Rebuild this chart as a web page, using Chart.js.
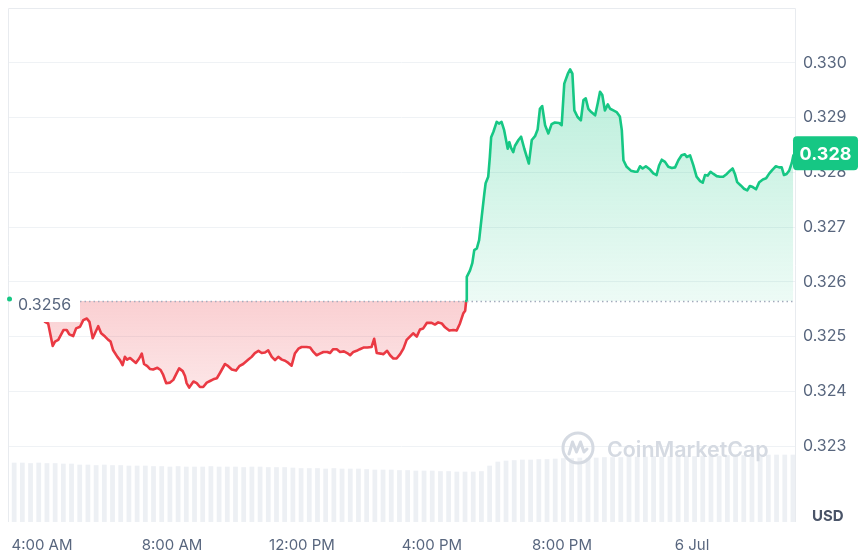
<!DOCTYPE html>
<html><head><meta charset="utf-8">
<script src="https://cdn.jsdelivr.net/npm/chart.js@4.4.1/dist/chart.umd.min.js"></script>
<style>html,body{margin:0;padding:0;background:#fff;}#wrap{width:862px;height:556px;position:relative;}</style>
</head><body><div id="wrap"><canvas id="c" width="862" height="556"></canvas></div>
<script>
// ---- data (hours since 00:00 of the first day) ----
const times = [
4.09,4.19,4.33,4.40,4.50,4.66,4.76,4.84,4.96,5.05,5.17,5.27,5.38,5.46,5.56,5.63,5.73,5.82,5.94,6.04,
6.11,6.19,6.32,6.40,6.48,6.55,6.62,6.71,6.79,6.89,6.99,7.07,7.14,7.24,7.32,7.42,7.55,7.65,7.73,7.82,
7.94,8.04,8.14,8.22,8.33,8.40,8.45,8.53,8.66,8.76,8.86,8.96,9.07,9.17,9.27,9.38,9.48,9.63,9.73,9.84,
9.97,10.07,10.19,10.35,10.45,10.55,10.66,10.76,10.86,10.96,11.07,11.17,11.27,11.38,11.48,11.58,11.68,11.78,11.89,11.99,
12.14,12.25,12.35,12.45,12.55,12.66,12.78,12.86,12.96,13.07,13.17,13.29,13.39,13.48,13.58,13.68,13.78,13.89,14.01,14.14,
14.22,14.30,14.42,14.50,14.62,14.71,14.81,14.91,15.02,15.12,15.22,15.32,15.42,15.53,15.63,15.73,15.84,15.99,16.09,16.19,
16.30,16.40,16.53,16.66,16.76,16.86,16.96,17.02,17.05,17.07,17.17,17.24,17.30,17.38,17.45,17.53,17.61,17.65,17.73,17.78,
17.82,17.89,17.99,18.06,18.14,18.22,18.33,18.38,18.43,18.50,18.55,18.66,18.74,18.84,18.98,19.07,19.17,19.25,19.32,19.39,
19.48,19.58,19.68,19.78,19.91,19.99,20.07,20.18,20.25,20.32,20.38,20.48,20.58,20.66,20.73,20.81,20.90,21.02,21.10,21.17,
21.24,21.32,21.41,21.48,21.58,21.68,21.78,21.84,21.89,21.99,22.12,22.25,22.32,22.40,22.48,22.58,22.71,22.81,22.91,22.99,
23.07,23.17,23.27,23.38,23.48,23.58,23.68,23.78,23.84,23.94,24.04,24.14,24.25,24.33,24.40,24.48,24.57,24.66,24.76,24.86,
24.96,25.07,25.17,25.25,25.32,25.39,25.50,25.60,25.70,25.78,25.87,25.97,26.07,26.18,26.28,26.38,26.48,26.58,26.68,26.76,
26.83,26.91,26.99,27.07,27.12
];
const prices = [
0.32527,0.32524,0.32483,0.32491,0.32494,0.32512,0.32512,0.32504,0.32501,0.32515,0.32518,0.32530,0.32533,0.32527,0.32497,0.32506,0.32519,0.32506,0.32500,0.32494,
0.32491,0.32475,0.32463,0.32457,0.32448,0.32463,0.32458,0.32461,0.32457,0.32452,0.32460,0.32469,0.32450,0.32446,0.32441,0.32440,0.32443,0.32439,0.32430,0.32415,
0.32416,0.32421,0.32433,0.32442,0.32437,0.32428,0.32415,0.32407,0.32418,0.32415,0.32408,0.32408,0.32416,0.32419,0.32422,0.32424,0.32434,0.32450,0.32446,0.32440,
0.32438,0.32446,0.32450,0.32458,0.32463,0.32470,0.32474,0.32470,0.32471,0.32475,0.32463,0.32457,0.32463,0.32458,0.32456,0.32452,0.32447,0.32469,0.32478,0.32481,
0.32481,0.32480,0.32472,0.32466,0.32469,0.32472,0.32472,0.32470,0.32477,0.32477,0.32472,0.32473,0.32470,0.32466,0.32472,0.32474,0.32477,0.32480,0.32480,0.32481,
0.32496,0.32470,0.32469,0.32468,0.32474,0.32466,0.32460,0.32460,0.32468,0.32478,0.32494,0.32500,0.32506,0.32500,0.32513,0.32515,0.32525,0.32525,0.32522,0.32526,
0.32524,0.32517,0.32511,0.32512,0.32511,0.32524,0.32542,0.32547,0.32565,0.32609,0.32621,0.32634,0.32658,0.32661,0.32676,0.32719,0.32761,0.32780,0.32792,0.32828,
0.32864,0.32874,0.32892,0.32889,0.32892,0.32877,0.32843,0.32855,0.32845,0.32837,0.32848,0.32859,0.32865,0.32843,0.32816,0.32859,0.32866,0.32878,0.32916,0.32921,
0.32886,0.32871,0.32888,0.32891,0.32890,0.32886,0.32962,0.32980,0.32988,0.32980,0.32913,0.32901,0.32895,0.32932,0.32935,0.32916,0.32910,0.32904,0.32926,0.32947,
0.32941,0.32913,0.32924,0.32916,0.32913,0.32910,0.32902,0.32877,0.32822,0.32810,0.32803,0.32801,0.32801,0.32811,0.32807,0.32811,0.32805,0.32798,0.32795,0.32813,
0.32823,0.32819,0.32810,0.32808,0.32809,0.32822,0.32831,0.32833,0.32828,0.32831,0.32813,0.32792,0.32784,0.32781,0.32795,0.32794,0.32801,0.32797,0.32793,0.32792,
0.32792,0.32797,0.32803,0.32807,0.32797,0.32782,0.32776,0.32770,0.32767,0.32775,0.32773,0.32769,0.32782,0.32787,0.32789,0.32798,0.32805,0.32811,0.32809,0.32809,
0.32795,0.32797,0.32803,0.32817,0.32831
];
// 24h volume profile (relative units)
const volumes = [
59,59,58.5,59,58.5,58.5,58,58,
57,57,56.5,57,56.5,56.5,56,56,56,
55.5,55.5,55,55.5,55,55,55,55.5,55,55,55,54.5,55,55,54.5,54.5,54.5,54,
53.5,53.5,53.5,53,53.5,53,53,53,
52.5,52,52,52,51.5,51.5,51,51,51,50.5,
50.5,50,50,50,50.5,
56,60,
61,61.5,62,62,62.5,62.5,63,
63.5,63.5,64,64,64,64.5,64.5,64.5,65,65,65,65.5,65,65.5,65.5,66,65.5,66,66,66,66.5,66,66.5,66.5,66.5,67,67,67,67
];
const xTickHours = [4, 8, 12, 16, 20, 24];
const xTickLabels = ['4:00 AM', '8:00 AM', '12:00 PM', '4:00 PM', '8:00 PM', '6 Jul'];
const yTickValues = [0.323, 0.324, 0.325, 0.326, 0.327, 0.328, 0.329, 0.330];
const xRange = [2.954, 27.169];
const yRange = [0.321615, 0.331];
const openPrice = 0.32565;
const openLabel = '0.3256';
const lastLabel = '0.328';
const currencyLabel = 'USD';
const watermarkText = 'CoinMarketCap';

const GREEN = '#16c784', RED = '#ea3943', TXT = '#58667e', GRID = '#eff2f5';
const FONT = 'Inter, "Noto Sans", sans-serif';

const overlay = {
  id: 'overlay',
  afterDatasetsDraw(chart) {
    const {ctx, chartArea: a, scales: {y}} = chart;
    const by = y.getPixelForValue(openPrice);
    ctx.save();
    // frame
    ctx.strokeStyle = '#e8ebef'; ctx.lineWidth = 1;
    ctx.beginPath();
    ctx.moveTo(a.left + 0.5, a.bottom); ctx.lineTo(a.left + 0.5, a.top + 0.5);
    ctx.lineTo(a.right + 0.5, a.top + 0.5); ctx.lineTo(a.right + 0.5, a.bottom);
    ctx.stroke();
    // dotted baseline
    ctx.setLineDash([1.5, 3]);
    ctx.strokeStyle = '#a3acbd'; ctx.lineWidth = 1.5;
    ctx.beginPath(); ctx.moveTo(a.left + 72, by + 0.5); ctx.lineTo(a.right, by + 0.5); ctx.stroke();
    ctx.setLineDash([]);
    // open price label
    ctx.fillStyle = '#ffffff';
    ctx.fillRect(a.left + 4, by - 13, 68, 34);
    ctx.fillStyle = GREEN;
    ctx.beginPath(); ctx.arc(a.left + 1.5, by - 2, 2.5, 0, Math.PI * 2); ctx.fill();
    ctx.fillStyle = TXT; ctx.font = '16px ' + FONT;
    ctx.textAlign = 'left'; ctx.textBaseline = 'middle';
    ctx.fillText(openLabel, a.left + 10, by + 4);
    // watermark
    const wc = '#d5dae2';
    const cx = 578, cy = 448;
    ctx.strokeStyle = wc; ctx.lineWidth = 3; ctx.lineJoin = 'round'; ctx.lineCap = 'round';
    ctx.beginPath(); ctx.arc(cx, cy, 15, 0, Math.PI * 2); ctx.stroke();
    ctx.beginPath();
    ctx.moveTo(cx - 9, cy + 6); ctx.lineTo(cx - 5.5, cy - 6); ctx.lineTo(cx - 1.5, cy + 4);
    ctx.lineTo(cx + 2.5, cy - 6); ctx.lineTo(cx + 6, cy + 4); ctx.lineTo(cx + 9, cy + 1);
    ctx.stroke();
    ctx.font = '600 22px ' + FONT;
    const w = ctx.measureText(watermarkText).width;
    const fs = 22 * 162 / w;
    ctx.font = '600 ' + fs.toFixed(1) + 'px ' + FONT;
    ctx.fillStyle = wc; ctx.textBaseline = 'middle';
    ctx.fillText(watermarkText, 607, 451);
    ctx.restore();
  },
  afterDraw(chart) {
    const {ctx, chartArea: a, scales: {y}} = chart;
    const ly = y.getPixelForValue(prices[prices.length - 1]) - 2;
    ctx.save();
    // last price badge
    ctx.fillStyle = GREEN;
    const bx = a.right - 2, bw = 65, bh = 34;
    ctx.beginPath();
    if (ctx.roundRect) ctx.roundRect(bx, ly - bh / 2, bw, bh, 4); else ctx.rect(bx, ly - bh / 2, bw, bh);
    ctx.fill();
    ctx.fillStyle = '#ffffff'; ctx.font = 'bold 18px ' + FONT;
    ctx.textAlign = 'center'; ctx.textBaseline = 'middle';
    ctx.fillText(lastLabel, bx + bw / 2, ly + 1);
    // currency label
    ctx.fillStyle = '#4a5468'; ctx.font = 'bold 15px ' + FONT;
    ctx.textAlign = 'left';
    ctx.fillText(currencyLabel, a.right + 17, a.bottom - 6);
    ctx.restore();
  }
};

const chart = new Chart(document.getElementById('c'), {
  type: 'line',
  data: {
    datasets: [
      {
        type: 'line', order: 0, xAxisID: 'x', yAxisID: 'y',
        data: times.map((t, i) => ({x: t, y: prices[i]})),
        borderColor: GREEN, borderWidth: 2.6, pointRadius: 0, tension: 0,
        borderJoinStyle: 'round', borderCapStyle: 'round',
        segment: { borderColor: c => (c.p0.parsed.y >= openPrice - 1e-9 ? GREEN : RED) },
        fill: { target: { value: openPrice }, above: 'rgba(22,199,132,0.18)', below: 'rgba(234,57,67,0.2)' }
      },
      {
        type: 'bar', order: 1, xAxisID: 'xv', yAxisID: 'y2',
        data: volumes,
        backgroundColor: '#edf0f4',
        borderWidth: 0,
        barPercentage: 1, categoryPercentage: 1
      }
    ]
  },
  options: {
    responsive: false, animation: false, devicePixelRatio: 1, events: [],
    layout: { padding: { left: 8, top: 8, right: 0, bottom: 0 } },
    plugins: { legend: { display: false }, tooltip: { enabled: false } },
    scales: {
      x: {
        type: 'linear', position: 'bottom', min: xRange[0], max: xRange[1],
        grid: { display: false, drawTicks: false }, border: { display: false },
        afterBuildTicks: s => { s.ticks = xTickHours.map(v => ({ value: v })); },
        afterFit: s => { s.height = 34; s.paddingLeft = 0; s.paddingRight = 0; },
        ticks: {
          autoSkip: false, maxRotation: 0, padding: 14, color: TXT,
          font: { family: FONT, size: 15 },
          callback: v => { const i = xTickHours.indexOf(v); return i >= 0 ? xTickLabels[i] : ''; }
        }
      },
      y: {
        type: 'linear', position: 'right', min: yRange[0], max: yRange[1],
        grid: { color: GRID, lineWidth: 1, drawTicks: false }, border: { display: false },
        afterBuildTicks: s => { s.ticks = yTickValues.map(v => ({ value: v })); },
        afterFit: s => { s.width = 67; s.paddingTop = 0; s.paddingBottom = 0; },
        ticks: {
          padding: 8, color: TXT, font: { family: FONT, size: 16 },
          callback: v => Number(v).toFixed(3)
        }
      },
      xv: { type: 'category', labels: volumes.map((_, i) => String(i)), display: false, offset: true },
      y2: { type: 'linear', display: false, min: 0, max: 514 }
    }
  },
  plugins: [overlay]
});

// gradient fills built from the chart's own scale
(function () {
  const y = chart.scales.y, ctx = chart.ctx;
  const topPx = y.getPixelForValue(Math.max(...prices));
  const basePx = y.getPixelForValue(openPrice);
  const lowPx = y.getPixelForValue(Math.min(...prices));
  const g = ctx.createLinearGradient(0, topPx, 0, basePx);
  g.addColorStop(0, 'rgba(22,199,132,0.30)');
  g.addColorStop(1, 'rgba(22,199,132,0.08)');
  const r = ctx.createLinearGradient(0, basePx, 0, lowPx);
  r.addColorStop(0, 'rgba(234,57,67,0.24)');
  r.addColorStop(1, 'rgba(234,57,67,0.13)');
  chart.data.datasets[0].fill = { target: { value: openPrice }, above: g, below: r };
  chart.update('none');
})();
</script></body></html>
